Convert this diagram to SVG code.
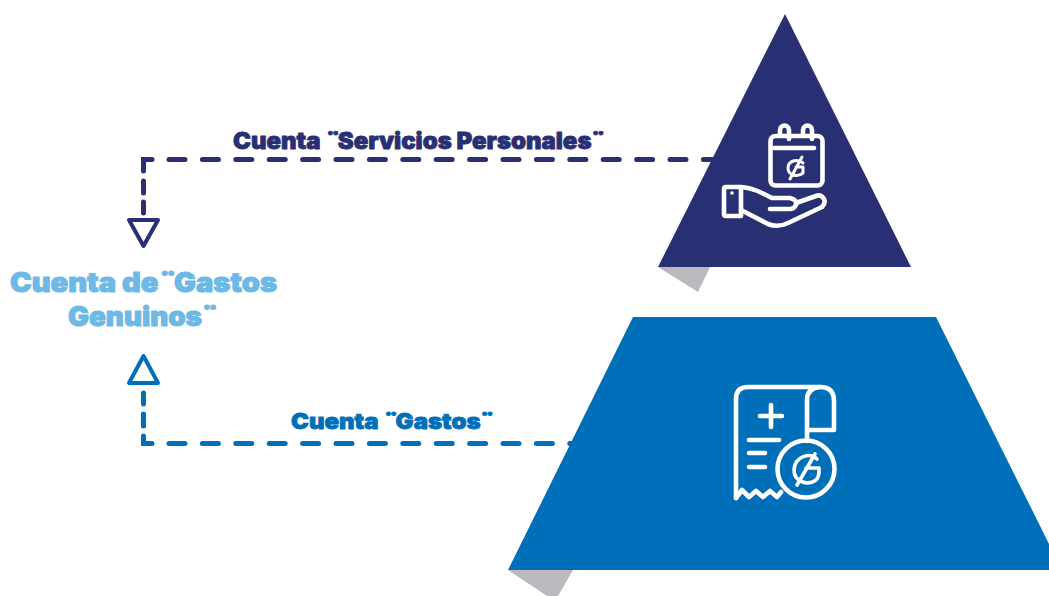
<svg xmlns="http://www.w3.org/2000/svg" width="1049" height="596" viewBox="0 0 1049 596">
<style>
text{font-family:"Inter","Liberation Sans",sans-serif;font-weight:900;stroke-width:.8;stroke-linejoin:round}
.navy{fill:#292f73}.blue{fill:#006fb9}.sky{fill:#6db9e6}.gray{fill:#bcb9be}
text.navy{stroke:#292f73}text.blue{stroke:#006fb9}text.sky{stroke:#6db9e6;stroke-width:1}
.ic{fill:none;stroke:#fff;stroke-width:4.600;stroke-linecap:round;stroke-linejoin:round}
.ln{fill:none;stroke-width:5;stroke-linecap:round;stroke-linejoin:miter}
.tri{fill:none;stroke-width:4;stroke-linejoin:round}
.cn{stroke:#292f73}.cb{stroke:#006fb9}
</style>
<rect width="1049" height="596" fill="#fff"/>
<g id="connectors">
<path class="ln cn" d="M169 159.500H712" stroke-dasharray="16 17.400"/>
<path class="ln cn" d="M152 159.500H143.500V171M143.500 181V193M143.500 202V213"/>
<polygon class="tri cn" points="129,220 158,220 143.500,246"/>
<path class="ln cb" d="M143.500 393V404M143.500 414V426M143.500 436V443.500H152"/>
<path class="ln cb" d="M169 443.500H572" stroke-dasharray="16 17.400"/>
<polygon class="tri cb" points="143.500,356 129,383 158,383"/>
</g>
<g id="node-servicios">
<polygon class="gray" points="658,267 710,267 698,292"/>
<polygon class="navy" points="785,14 911,267 658,267"/>
<g class="ic">
<rect x="770.500" y="136" width="52" height="49.500" rx="5"/>
<path d="M774 148H814"/>
<path d="M780 135V130A4.500 4.500 0 0 1 789 130V139M803 135V130A4.500 4.500 0 0 1 812 130V139"/>
<path d="M803 163C797 158 788 161 788 168C788 175 797 178 803 173V167H796M802 157L790 179" style="stroke-width:3"/>
<path d="M741 187H726Q724 187 724 189V214Q724 216 726 216H741V187Q752 188 762 193L772 198H790Q798 200 796 205Q794 209 790 209H770"/>
<path d="M741 210L768 224Q778 228 788 223L822 207Q826 203 824 199Q821 194 816 196L796 203"/>
</g>
<circle cx="732" cy="193" r="1.800" fill="#fff"/>
</g>
<g id="node-gastos">
<polygon class="gray" points="508,570 573,570 558,596 547,596"/>
<polygon class="blue" points="633,317 936,317 1062,570 508,570"/>
<g class="ic">
<path d="M736 498V399Q736 387 748 387H820Q834 387 834 401V430H807"/>
<path d="M807 441V400Q807 388 820 387"/>
<path d="M736 498L742 490L749 497L756 491L763 497L770 491L777 497L781 492"/>
<circle cx="806" cy="469" r="28.500"/>
<path d="M771 405V427M760 416H782M749 440H779M749 453H765M749 467H765"/>
<path style="stroke-width:3.600" d="M817 459C810 452 795 456 794 470C794 482 808 486 816 480C820 476 819 470 819 468H806M815 454L797 485"/>
</g>
</g>
<g id="label-servicios"><text x="233" y="149" font-size="23" class="navy" textLength="373" lengthAdjust="spacingAndGlyphs">Cuenta ¨<tspan dx="-3">Servicios Personales</tspan><tspan dx="-1">¨</tspan></text></g>
<g id="label-gastos"><text x="291" y="429" font-size="22" class="blue" textLength="204" lengthAdjust="spacingAndGlyphs">Cuenta ¨<tspan dx="-3">Gastos</tspan><tspan dx="-1">¨</tspan></text></g>
<g id="node-genuinos">
<text x="10" y="292" font-size="27" class="sky" textLength="267" lengthAdjust="spacingAndGlyphs">Cuenta de¨<tspan dx="-3">Gastos</tspan></text>
<text x="68" y="326" font-size="27" class="sky" textLength="151" lengthAdjust="spacingAndGlyphs">Genuinos<tspan dx="-1">¨</tspan></text>
</g>
</svg>
